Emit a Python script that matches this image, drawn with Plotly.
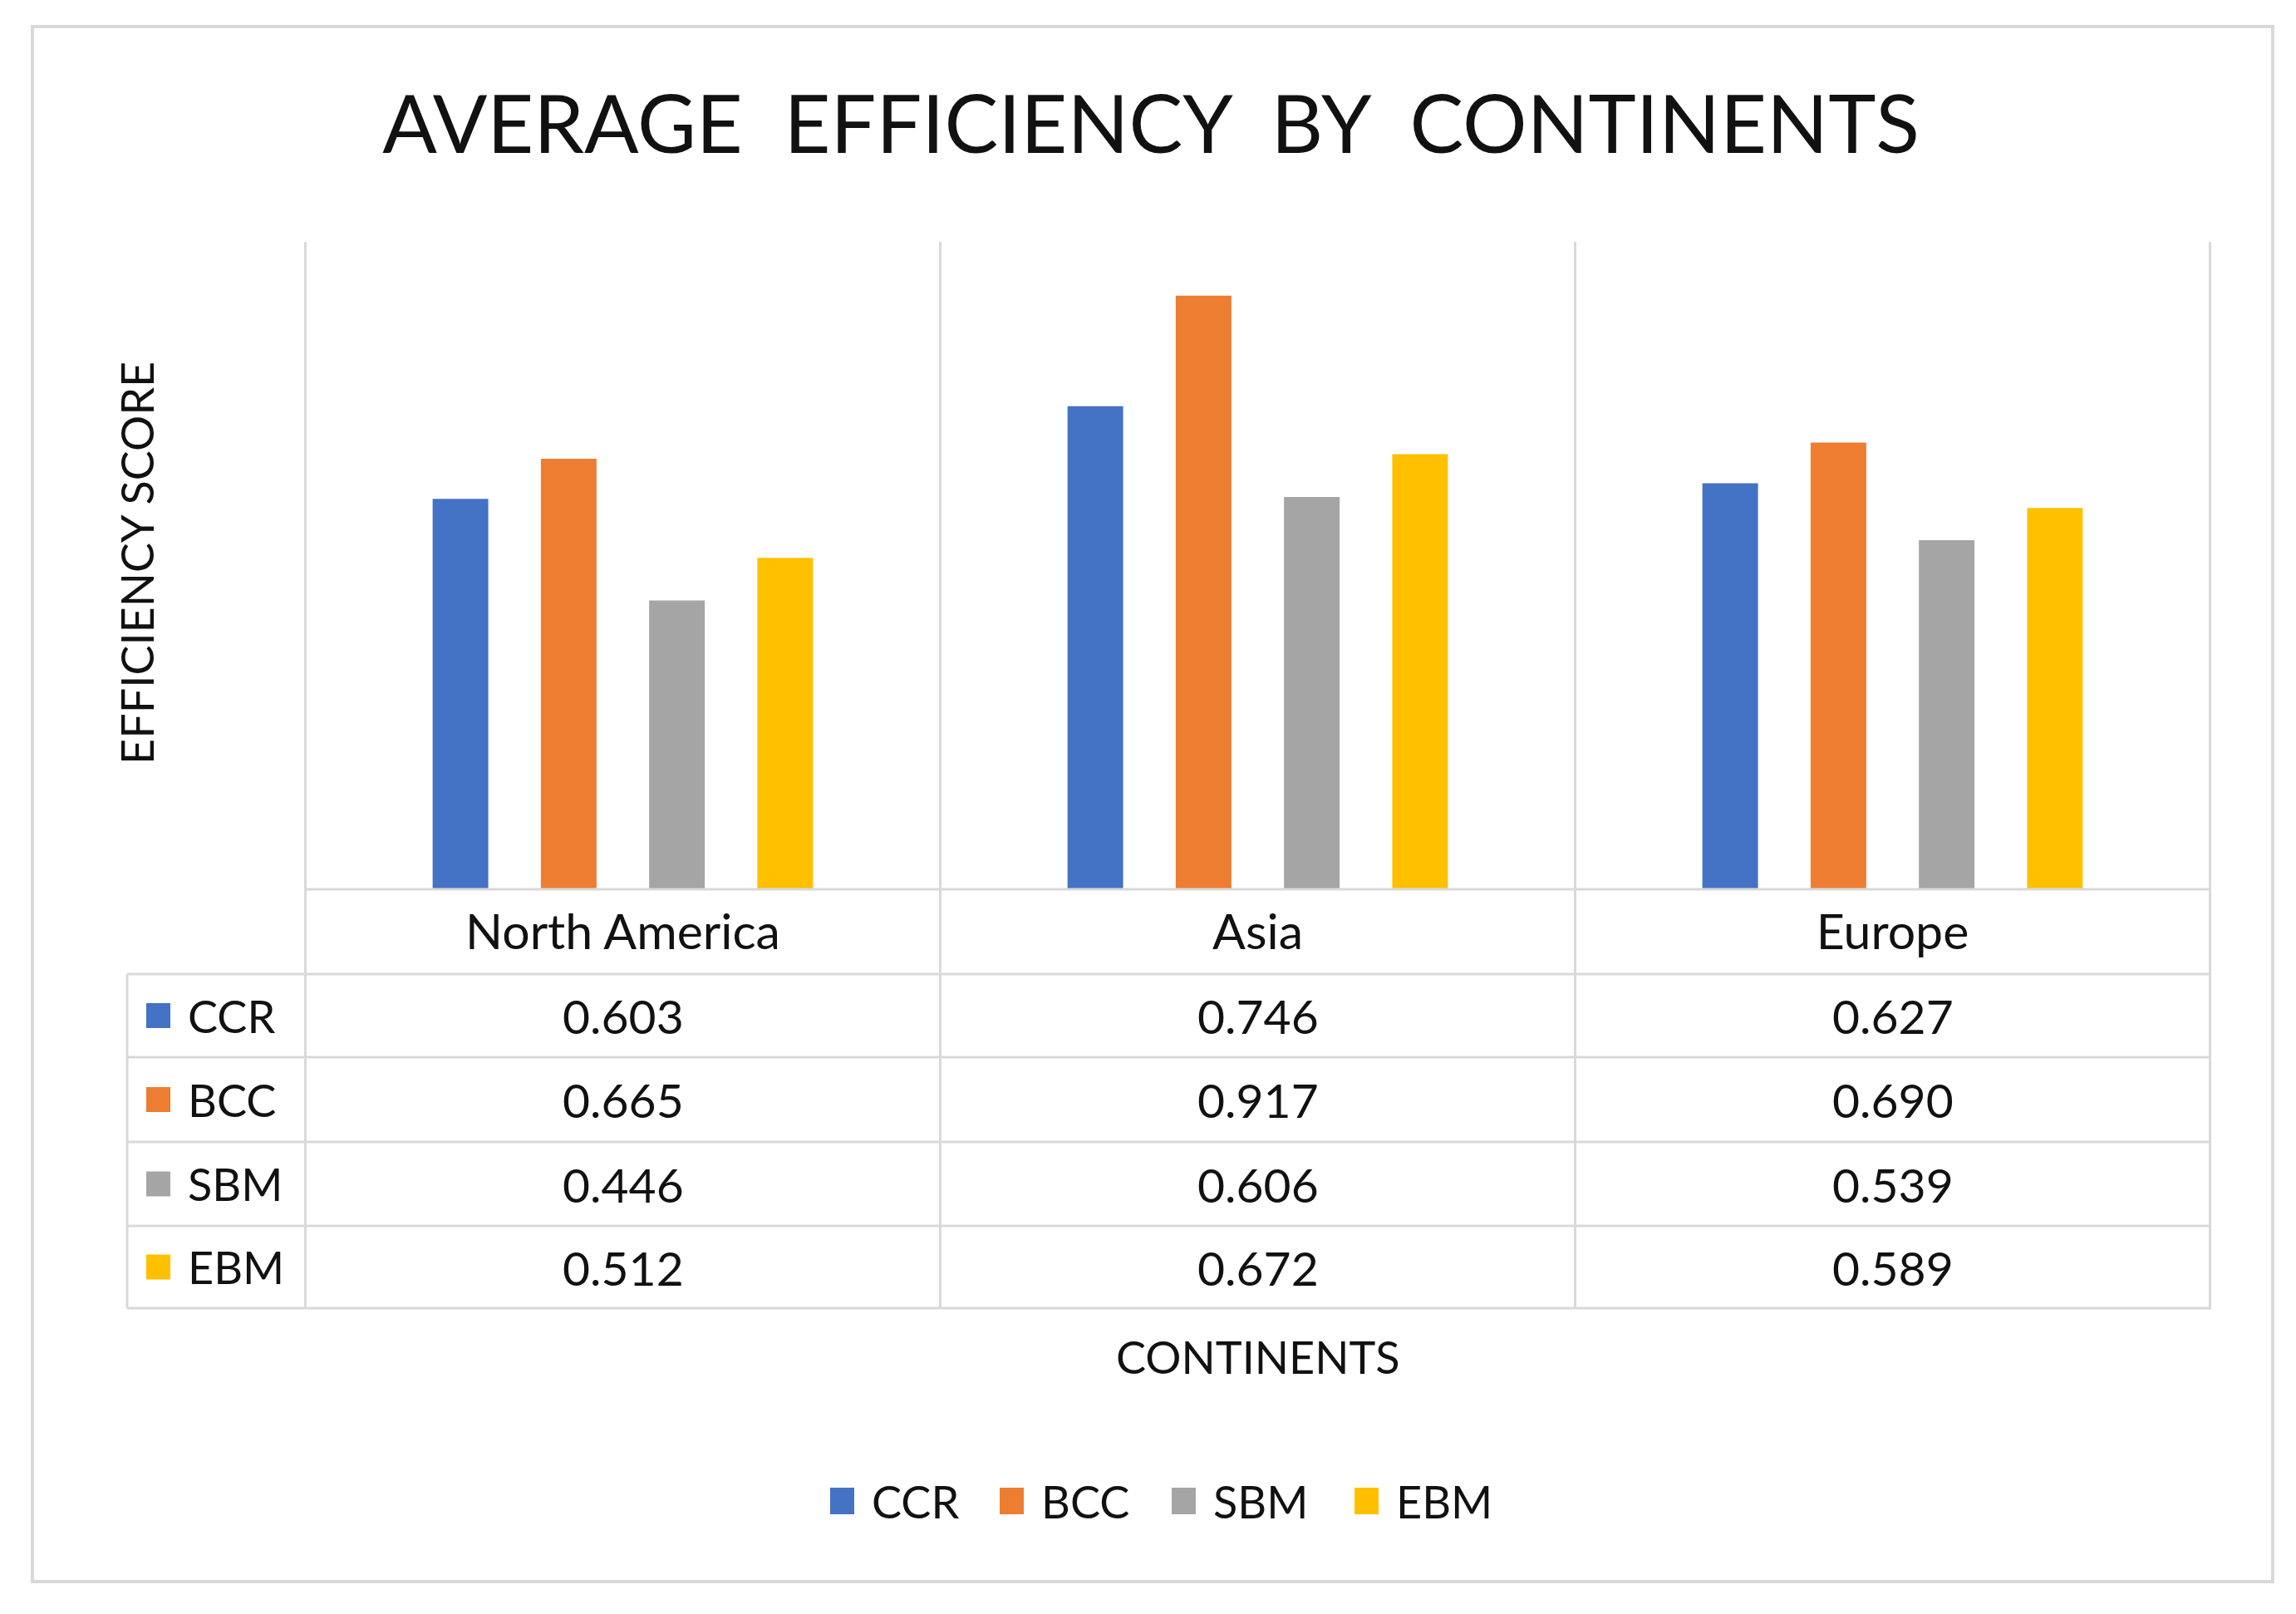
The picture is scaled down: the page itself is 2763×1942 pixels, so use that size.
import plotly.graph_objects as go

# ---------------- data ----------------
continents = ["North America", "Asia", "Europe"]
series_names = ["CCR", "BCC", "SBM", "EBM"]
ccr = [0.603, 0.746, 0.627]
bcc = [0.665, 0.917, 0.690]
sbm = [0.446, 0.606, 0.539]
ebm = [0.512, 0.672, 0.589]
series_values = [ccr, bcc, sbm, ebm]
colors = ["#4472C4", "#ED7D31", "#A5A5A5", "#FFC000"]
title_text = "AVERAGE\u00a0 EFFICIENCY\u00a0 BY\u00a0 CONTINENTS"
x_title = "CONTINENTS"
y_title = "EFFICIENCY SCORE"

# ---------------- geometry (pixels in the final screenshot) ----------------
W, H = 2763, 1942
OFF = 8  # default page body margin
def px(x):
    return (x - OFF) / W
def py(y):
    return 1 - (y - OFF) / H

plot_l, plot_r, plot_t, plot_b = 366, 2661, 291, 1070
table_left = 153
row_lines = [1070, 1172, 1272, 1374, 1475, 1574]
grid_color = "#D9D9D9"
FONT = "Lato, 'Open Sans', sans-serif"
TXT = "#111111"
FS = 54

fig = go.Figure()
for name, vals, col in zip(series_names, series_values, colors):
    fig.add_trace(go.Bar(x=continents, y=vals, name=name, marker_color=col,
                         marker_line_width=0, showlegend=False))

shapes = []
annotations = []

# outer chart border
shapes.append(dict(type="rect", xref="paper", yref="paper",
                   x0=px(39), x1=px(2735), y0=py(1903), y1=py(32),
                   line=dict(color=grid_color, width=4), layer="below"))

# vertical separators (category boundaries), through the data table
for i in range(len(continents) + 1):
    shapes.append(dict(type="line", xref="x", yref="paper",
                       x0=i - 0.5, x1=i - 0.5, y0=py(plot_t), y1=py(row_lines[-1]),
                       line=dict(color=grid_color, width=3)))
# left border of legend column
shapes.append(dict(type="line", xref="paper", yref="paper",
                   x0=px(table_left), x1=px(table_left), y0=py(row_lines[1]), y1=py(row_lines[-1]),
                   line=dict(color=grid_color, width=3)))
# horizontal table lines
for k, yl in enumerate(row_lines):
    x0 = plot_l if k == 0 else table_left
    shapes.append(dict(type="line", xref="paper", yref="paper",
                       x0=px(x0), x1=px(plot_r), y0=py(yl), y1=py(yl),
                       line=dict(color=grid_color, width=3)))

# data table contents
for r, (name, vals, col) in enumerate(zip(series_names, series_values, colors)):
    yc = (row_lines[r + 1] + row_lines[r + 2]) / 2
    shapes.append(dict(type="rect", xref="paper", yref="paper",
                       x0=px(176), x1=px(205), y0=py(yc + 15), y1=py(yc - 15),
                       fillcolor=col, line=dict(width=0)))
    annotations.append(dict(x=px(224), y=py(yc), xref="paper", yref="paper",
                            text=name, showarrow=False, xanchor="left", yanchor="middle",
                            font=dict(family=FONT, size=FS, color=TXT)))
    for c, v in zip(continents, vals):
        annotations.append(dict(x=c, y=py(yc), xref="x", yref="paper",
                                text=f"{v:.3f}", showarrow=False, xanchor="center",
                                yanchor="middle", font=dict(family=FONT, size=57, color=TXT)))

# axis titles
annotations.append(dict(x=px((plot_l + plot_r) / 2), y=py(1632), xref="paper", yref="paper",
                        text=x_title, showarrow=False, xanchor="center", yanchor="middle",
                        font=dict(family=FONT, size=FS, color=TXT)))
annotations.append(dict(x=px(164), y=py(678), xref="paper", yref="paper",
                        text=y_title, showarrow=False, textangle=-90,
                        xanchor="center", yanchor="middle",
                        font=dict(family=FONT, size=FS, color=TXT)))

# bottom legend
legend_x = [999, 1203, 1410, 1630]
leg_y = 1806
for name, col, lx in zip(series_names, colors, legend_x):
    shapes.append(dict(type="rect", xref="paper", yref="paper",
                       x0=px(lx), x1=px(lx + 29), y0=py(leg_y + 16), y1=py(leg_y - 16),
                       fillcolor=col, line=dict(width=0)))
    annotations.append(dict(x=px(lx + 48), y=py(leg_y), xref="paper", yref="paper",
                            text=name, showarrow=False, xanchor="left", yanchor="middle",
                            font=dict(family=FONT, size=FS, color=TXT)))

fig.update_layout(
    width=W, height=H,
    margin=dict(l=0, r=0, t=0, b=0),
    paper_bgcolor="white", plot_bgcolor="white",
    barmode="group", bargap=0.318, bargroupgap=0.486,
    title=dict(text=title_text, x=px(1385), xanchor="center", y=py(150), yanchor="middle",
               xref="paper", yref="paper",
               font=dict(family=FONT, size=97, color=TXT)),
    xaxis=dict(domain=[px(plot_l), px(plot_r)], showgrid=False, zeroline=False,
               showline=False, ticks="", tickfont=dict(family=FONT, size=59, color=TXT),
               ticklabelstandoff=12, fixedrange=True),
    yaxis=dict(domain=[py(plot_b), py(plot_t)], range=[0, 1.0], showgrid=False,
               zeroline=False, showline=False, showticklabels=False, ticks="",
               fixedrange=True),
    shapes=shapes, annotations=annotations,
    showlegend=False,
)

fig.write_html("out.html")
